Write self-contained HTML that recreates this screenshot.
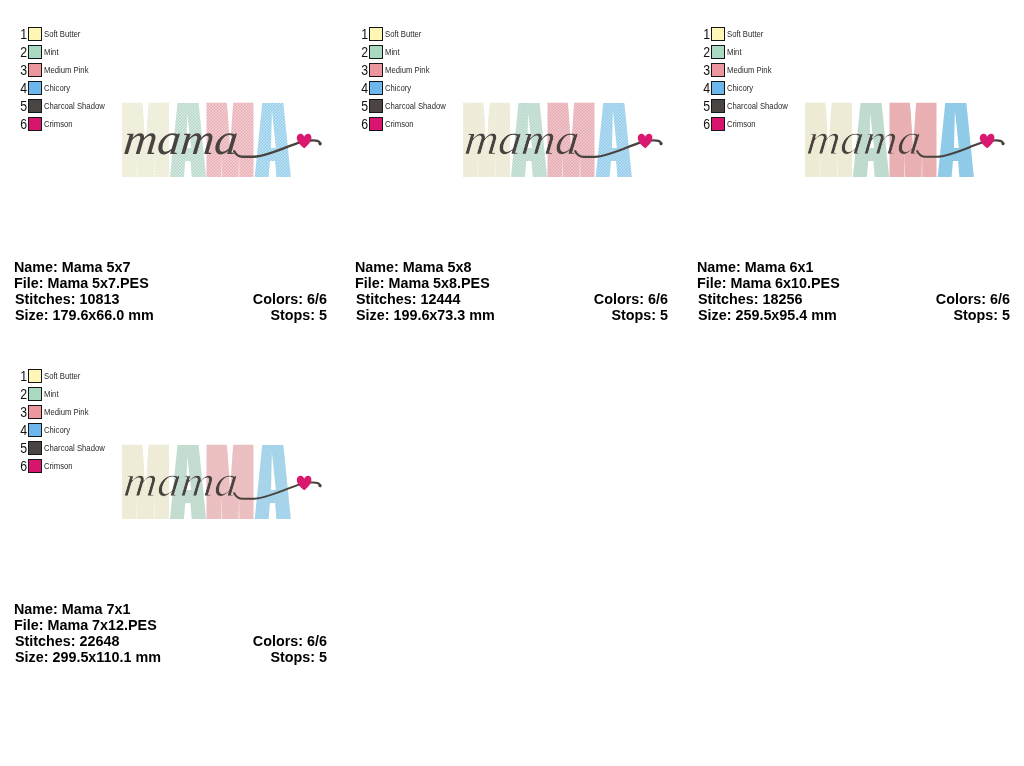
<!DOCTYPE html>
<html lang="en">
<head>
<meta charset="utf-8">
<title>Mama embroidery design</title>
<style>
html,body{margin:0;padding:0;background:#fff;}
body{width:1024px;height:766px;position:relative;overflow:hidden;font-family:"Liberation Sans",sans-serif;color:#000;}
.cell{position:absolute;width:341px;height:342px;}
.row{position:absolute;left:0;height:18px;width:200px;}
.num{position:absolute;left:14.6px;width:12px;top:0;text-align:right;font-size:14px;line-height:18px;color:#111;transform:scaleX(0.88);transform-origin:100% 50%;}
.sw{position:absolute;left:28px;top:2px;width:12px;height:12px;border:1px solid #151515;}
.lab{position:absolute;left:44px;top:1.1px;font-size:8.2px;line-height:18px;color:#2a2a2a;white-space:nowrap;transform:scaleX(0.94);transform-origin:0 50%;}
.info{position:absolute;left:14px;top:259px;width:313px;font-weight:bold;font-size:14.35px;line-height:16px;white-space:nowrap;}
.info div{position:relative;height:16px;}
.info .i{padding-left:1px;}
.info .r{position:absolute;right:0;top:0;}
.art{position:absolute;left:110px;top:92px;width:220px;height:100px;overflow:visible;}
</style>
</head>
<body>
<svg width="0" height="0" style="position:absolute"><defs><filter id="fatM" x="-25%" y="-5%" width="150%" height="110%"><feMorphology operator="dilate" radius="10.23 0"/></filter><filter id="fatA" x="-60%" y="-5%" width="220%" height="110%"><feMorphology operator="dilate" radius="30.18 0"/></filter><pattern id="hatch" width="3" height="3" patternUnits="userSpaceOnUse"><path d="M-1 1 L1 -1 M0 3 L3 0 M2 4 L4 2" stroke="#fff" stroke-width="0.9" opacity="0.4"/><path d="M-1 2 L1 4 M0 0 L3 3 M2 -1 L4 1" stroke="#fff" stroke-width="0.6" opacity="0.22"/></pattern><mask id="thinA" maskUnits="userSpaceOnUse" x="-10" y="-45" width="150" height="65"><text font-family="Liberation Serif, serif" font-style="italic" font-size="44" fill="#fff" stroke="#000" stroke-width="0.4">mama</text></mask><mask id="thinB" maskUnits="userSpaceOnUse" x="-10" y="-45" width="150" height="65"><text font-family="Liberation Serif, serif" font-style="italic" font-size="44" fill="#fff" stroke="#000" stroke-width="0.8">mama</text></mask></defs></svg>
<div class="cell" style="left:0px;top:0px">
<div class="row" style="top:25px"><span class="num">1</span><span class="sw" style="background:#fdf6b4"></span><span class="lab">Soft Butter</span></div>
<div class="row" style="top:43px"><span class="num">2</span><span class="sw" style="background:#a9d9c1"></span><span class="lab">Mint</span></div>
<div class="row" style="top:61px"><span class="num">3</span><span class="sw" style="background:#ee969e"></span><span class="lab">Medium Pink</span></div>
<div class="row" style="top:79px"><span class="num">4</span><span class="sw" style="background:#6cb8ee"></span><span class="lab">Chicory</span></div>
<div class="row" style="top:97px"><span class="num">5</span><span class="sw" style="background:#4a4542"></span><span class="lab">Charcoal Shadow</span></div>
<div class="row" style="top:115px"><span class="num">6</span><span class="sw" style="background:#d8146e"></span><span class="lab">Crimson</span></div>
<svg class="art" viewBox="110 92 220 100">
<g font-family="Liberation Sans, sans-serif" font-weight="bold" font-size="107">
<text transform="translate(177.20 176.5) scale(0.2800 1)" fill="#bcdbce" filter="url(#fatA)">A</text>
<text transform="translate(261.90 176.5) scale(0.2800 1)" fill="#99d0eb" filter="url(#fatA)">A</text>
<text transform="translate(123.51 176.5) scale(0.4936 1)" fill="#ecebd6" filter="url(#fatM)">M</text>
<text transform="translate(208.11 176.5) scale(0.4936 1)" fill="#ebb3b9" filter="url(#fatM)">M</text>
</g>
<rect x="120" y="101" width="174" height="77" fill="url(#hatch)" opacity="1"/>
<g fill="#fff"><path d="M142.5 102 L148.5 102 L145.5 148 Z"/><path d="M136.4 177 L137.6 177 L136.8 152 Z" opacity="0.55"/><path d="M153.7 177 L154.9 177 L154.5 152 Z" opacity="0.55"/><path d="M227.1 102 L233.1 102 L230.1 148 Z"/><path d="M221.0 177 L222.2 177 L221.4 152 Z" opacity="0.55"/><path d="M238.3 177 L239.5 177 L239.1 152 Z" opacity="0.55"/><path d="M187.2 114 L186.3 148 L191.2 148 Z"/><path d="M185.3 161 L190.4 161 L191.7 177 L183.9 177 Z"/><path d="M271.9 110.5 L271.0 148 L275.9 148 Z"/><path d="M270.0 161 L275.1 161 L276.4 177 L268.6 177 Z"/></g>
<text transform="translate(122.5 154.3) skewX(-6) scale(1.06 1)" font-family="Liberation Serif, serif" font-style="italic" font-size="44" fill="#49433f" stroke="#49433f" stroke-width="0">mama</text>
<path d="M234.2 151.2 C236.2 155 238.5 156.7 242.5 156.8 L254 156.8 C266 156.5 281 149 297.4 143.1 C303 141.2 308 140.5 311 140.5 C315 140.2 318.4 140.7 319.7 142.4 C320.3 143.2 320.4 143.8 320.2 144.2" fill="none" stroke="#49433f" stroke-width="2.4" stroke-linecap="round"/>
<circle cx="320" cy="143.6" r="1.6" fill="#49433f"/>
<path d="M304.2 148.3 C300 145 296.6 141.5 296.8 137.6 C297 134.6 299.3 133.3 301.2 133.8 C302.8 134.2 303.8 135.4 304.2 136.8 C304.8 135.2 306 134 307.6 133.7 C309.8 133.4 311.6 135 311.4 138 C311.2 141.8 307.8 145.4 304.2 148.3 Z" fill="#d9186f"/>
</svg>
<div class="info"><div>Name: Mama 5x7</div><div>File: Mama 5x7.PES</div><div class="i">Stitches: 10813<span class="r">Colors: 6/6</span></div><div class="i">Size: 179.6x66.0 mm<span class="r">Stops: 5</span></div></div>
</div>
<div class="cell" style="left:341px;top:0px">
<div class="row" style="top:25px"><span class="num">1</span><span class="sw" style="background:#fdf6b4"></span><span class="lab">Soft Butter</span></div>
<div class="row" style="top:43px"><span class="num">2</span><span class="sw" style="background:#a9d9c1"></span><span class="lab">Mint</span></div>
<div class="row" style="top:61px"><span class="num">3</span><span class="sw" style="background:#ee969e"></span><span class="lab">Medium Pink</span></div>
<div class="row" style="top:79px"><span class="num">4</span><span class="sw" style="background:#6cb8ee"></span><span class="lab">Chicory</span></div>
<div class="row" style="top:97px"><span class="num">5</span><span class="sw" style="background:#4a4542"></span><span class="lab">Charcoal Shadow</span></div>
<div class="row" style="top:115px"><span class="num">6</span><span class="sw" style="background:#d8146e"></span><span class="lab">Crimson</span></div>
<svg class="art" viewBox="110 92 220 100">
<g font-family="Liberation Sans, sans-serif" font-weight="bold" font-size="107">
<text transform="translate(177.20 176.5) scale(0.2800 1)" fill="#bbdacd" filter="url(#fatA)">A</text>
<text transform="translate(261.90 176.5) scale(0.2800 1)" fill="#99ceec" filter="url(#fatA)">A</text>
<text transform="translate(123.51 176.5) scale(0.4936 1)" fill="#ece9d4" filter="url(#fatM)">M</text>
<text transform="translate(208.11 176.5) scale(0.4936 1)" fill="#e9afb6" filter="url(#fatM)">M</text>
</g>
<rect x="120" y="101" width="174" height="77" fill="url(#hatch)" opacity="0.8"/>
<g fill="#fff"><path d="M142.5 102 L148.5 102 L145.5 148 Z"/><path d="M136.4 177 L137.6 177 L136.8 152 Z" opacity="0.55"/><path d="M153.7 177 L154.9 177 L154.5 152 Z" opacity="0.55"/><path d="M227.1 102 L233.1 102 L230.1 148 Z"/><path d="M221.0 177 L222.2 177 L221.4 152 Z" opacity="0.55"/><path d="M238.3 177 L239.5 177 L239.1 152 Z" opacity="0.55"/><path d="M187.2 114 L186.3 148 L191.2 148 Z"/><path d="M185.3 161 L190.4 161 L191.7 177 L183.9 177 Z"/><path d="M271.9 110.5 L271.0 148 L275.9 148 Z"/><path d="M270.0 161 L275.1 161 L276.4 177 L268.6 177 Z"/></g>
<text transform="translate(122.5 154.3) skewX(-6) scale(1.06 1)" font-family="Liberation Serif, serif" font-style="italic" font-size="44" fill="#49433f" stroke="#49433f" stroke-width="0" mask="url(#thinA)">mama</text>
<path d="M234.2 151.2 C236.2 155 238.5 156.7 242.5 156.8 L254 156.8 C266 156.5 281 149 297.4 143.1 C303 141.2 308 140.5 311 140.5 C315 140.2 318.4 140.7 319.7 142.4 C320.3 143.2 320.4 143.8 320.2 144.2" fill="none" stroke="#49433f" stroke-width="2.2" stroke-linecap="round"/>
<circle cx="320" cy="143.6" r="1.6" fill="#49433f"/>
<path d="M304.2 148.3 C300 145 296.6 141.5 296.8 137.6 C297 134.6 299.3 133.3 301.2 133.8 C302.8 134.2 303.8 135.4 304.2 136.8 C304.8 135.2 306 134 307.6 133.7 C309.8 133.4 311.6 135 311.4 138 C311.2 141.8 307.8 145.4 304.2 148.3 Z" fill="#d9186f"/>
</svg>
<div class="info"><div>Name: Mama 5x8</div><div>File: Mama 5x8.PES</div><div class="i">Stitches: 12444<span class="r">Colors: 6/6</span></div><div class="i">Size: 199.6x73.3 mm<span class="r">Stops: 5</span></div></div>
</div>
<div class="cell" style="left:683px;top:0px">
<div class="row" style="top:25px"><span class="num">1</span><span class="sw" style="background:#fdf6b4"></span><span class="lab">Soft Butter</span></div>
<div class="row" style="top:43px"><span class="num">2</span><span class="sw" style="background:#a9d9c1"></span><span class="lab">Mint</span></div>
<div class="row" style="top:61px"><span class="num">3</span><span class="sw" style="background:#ee969e"></span><span class="lab">Medium Pink</span></div>
<div class="row" style="top:79px"><span class="num">4</span><span class="sw" style="background:#6cb8ee"></span><span class="lab">Chicory</span></div>
<div class="row" style="top:97px"><span class="num">5</span><span class="sw" style="background:#4a4542"></span><span class="lab">Charcoal Shadow</span></div>
<div class="row" style="top:115px"><span class="num">6</span><span class="sw" style="background:#d8146e"></span><span class="lab">Crimson</span></div>
<svg class="art" viewBox="110 92 220 100">
<g font-family="Liberation Sans, sans-serif" font-weight="bold" font-size="107">
<text transform="translate(177.20 176.5) scale(0.2800 1)" fill="#bcd9cc" filter="url(#fatA)">A</text>
<text transform="translate(261.90 176.5) scale(0.2800 1)" fill="#8ac8e7" filter="url(#fatA)">A</text>
<text transform="translate(123.51 176.5) scale(0.4936 1)" fill="#edead3" filter="url(#fatM)">M</text>
<text transform="translate(208.11 176.5) scale(0.4936 1)" fill="#e8acaf" filter="url(#fatM)">M</text>
</g>
<rect x="120" y="101" width="174" height="77" fill="url(#hatch)" opacity="0.3"/>
<g fill="#fff"><path d="M142.5 102 L148.5 102 L145.5 148 Z"/><path d="M136.4 177 L137.6 177 L136.8 152 Z" opacity="0.55"/><path d="M153.7 177 L154.9 177 L154.5 152 Z" opacity="0.55"/><path d="M227.1 102 L233.1 102 L230.1 148 Z"/><path d="M221.0 177 L222.2 177 L221.4 152 Z" opacity="0.55"/><path d="M238.3 177 L239.5 177 L239.1 152 Z" opacity="0.55"/><path d="M187.2 114 L186.3 148 L191.2 148 Z"/><path d="M185.3 161 L190.4 161 L191.7 177 L183.9 177 Z"/><path d="M271.9 110.5 L271.0 148 L275.9 148 Z"/><path d="M270.0 161 L275.1 161 L276.4 177 L268.6 177 Z"/></g>
<text transform="translate(122.5 154.3) skewX(-6) scale(1.06 1)" font-family="Liberation Serif, serif" font-style="italic" font-size="44" fill="#49433f" stroke="#49433f" stroke-width="0" mask="url(#thinB)">mama</text>
<path d="M234.2 151.2 C236.2 155 238.5 156.7 242.5 156.8 L254 156.8 C266 156.5 281 149 297.4 143.1 C303 141.2 308 140.5 311 140.5 C315 140.2 318.4 140.7 319.7 142.4 C320.3 143.2 320.4 143.8 320.2 144.2" fill="none" stroke="#49433f" stroke-width="2.1" stroke-linecap="round"/>
<circle cx="320" cy="143.6" r="1.6" fill="#49433f"/>
<path d="M304.2 148.3 C300 145 296.6 141.5 296.8 137.6 C297 134.6 299.3 133.3 301.2 133.8 C302.8 134.2 303.8 135.4 304.2 136.8 C304.8 135.2 306 134 307.6 133.7 C309.8 133.4 311.6 135 311.4 138 C311.2 141.8 307.8 145.4 304.2 148.3 Z" fill="#d9186f"/>
</svg>
<div class="info"><div>Name: Mama 6x1</div><div>File: Mama 6x10.PES</div><div class="i">Stitches: 18256<span class="r">Colors: 6/6</span></div><div class="i">Size: 259.5x95.4 mm<span class="r">Stops: 5</span></div></div>
</div>
<div class="cell" style="left:0px;top:342px">
<div class="row" style="top:25px"><span class="num">1</span><span class="sw" style="background:#fdf6b4"></span><span class="lab">Soft Butter</span></div>
<div class="row" style="top:43px"><span class="num">2</span><span class="sw" style="background:#a9d9c1"></span><span class="lab">Mint</span></div>
<div class="row" style="top:61px"><span class="num">3</span><span class="sw" style="background:#ee969e"></span><span class="lab">Medium Pink</span></div>
<div class="row" style="top:79px"><span class="num">4</span><span class="sw" style="background:#6cb8ee"></span><span class="lab">Chicory</span></div>
<div class="row" style="top:97px"><span class="num">5</span><span class="sw" style="background:#4a4542"></span><span class="lab">Charcoal Shadow</span></div>
<div class="row" style="top:115px"><span class="num">6</span><span class="sw" style="background:#d8146e"></span><span class="lab">Crimson</span></div>
<svg class="art" viewBox="110 92 220 100">
<g font-family="Liberation Sans, sans-serif" font-weight="bold" font-size="107">
<text transform="translate(177.20 176.5) scale(0.2800 1)" fill="#bfdacd" filter="url(#fatA)">A</text>
<text transform="translate(261.90 176.5) scale(0.2800 1)" fill="#a0d1e9" filter="url(#fatA)">A</text>
<text transform="translate(123.51 176.5) scale(0.4936 1)" fill="#edead4" filter="url(#fatM)">M</text>
<text transform="translate(208.11 176.5) scale(0.4936 1)" fill="#eabbbd" filter="url(#fatM)">M</text>
</g>
<rect x="120" y="101" width="174" height="77" fill="url(#hatch)" opacity="0.4"/>
<g fill="#fff"><path d="M142.5 102 L148.5 102 L145.5 148 Z"/><path d="M136.4 177 L137.6 177 L136.8 152 Z" opacity="0.55"/><path d="M153.7 177 L154.9 177 L154.5 152 Z" opacity="0.55"/><path d="M227.1 102 L233.1 102 L230.1 148 Z"/><path d="M221.0 177 L222.2 177 L221.4 152 Z" opacity="0.55"/><path d="M238.3 177 L239.5 177 L239.1 152 Z" opacity="0.55"/><path d="M187.2 114 L186.3 148 L191.2 148 Z"/><path d="M185.3 161 L190.4 161 L191.7 177 L183.9 177 Z"/><path d="M271.9 110.5 L271.0 148 L275.9 148 Z"/><path d="M270.0 161 L275.1 161 L276.4 177 L268.6 177 Z"/></g>
<text transform="translate(122.5 154.3) skewX(-6) scale(1.06 1)" font-family="Liberation Serif, serif" font-style="italic" font-size="44" fill="#49433f" stroke="#49433f" stroke-width="0" mask="url(#thinB)">mama</text>
<path d="M234.2 151.2 C236.2 155 238.5 156.7 242.5 156.8 L254 156.8 C266 156.5 281 149 297.4 143.1 C303 141.2 308 140.5 311 140.5 C315 140.2 318.4 140.7 319.7 142.4 C320.3 143.2 320.4 143.8 320.2 144.2" fill="none" stroke="#49433f" stroke-width="2" stroke-linecap="round"/>
<circle cx="320" cy="143.6" r="1.6" fill="#49433f"/>
<path d="M304.2 148.3 C300 145 296.6 141.5 296.8 137.6 C297 134.6 299.3 133.3 301.2 133.8 C302.8 134.2 303.8 135.4 304.2 136.8 C304.8 135.2 306 134 307.6 133.7 C309.8 133.4 311.6 135 311.4 138 C311.2 141.8 307.8 145.4 304.2 148.3 Z" fill="#d9186f"/>
</svg>
<div class="info"><div>Name: Mama 7x1</div><div>File: Mama 7x12.PES</div><div class="i">Stitches: 22648<span class="r">Colors: 6/6</span></div><div class="i">Size: 299.5x110.1 mm<span class="r">Stops: 5</span></div></div>
</div>
</body>
</html>
